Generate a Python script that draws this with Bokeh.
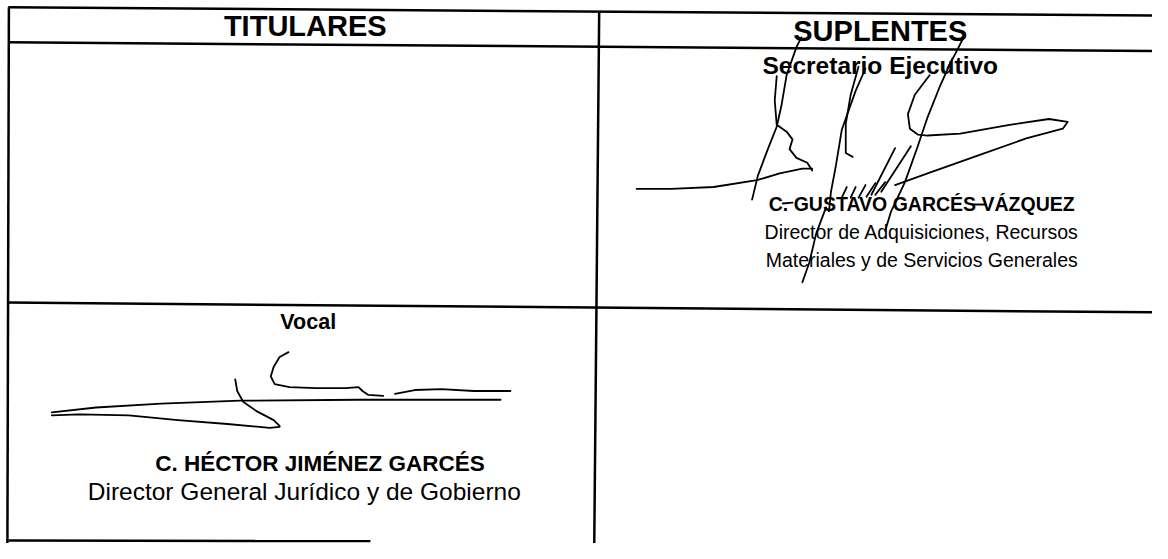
from bokeh.plotting import figure
from bokeh.models import Range1d, ColumnDataSource
from bokeh.core.properties import value
from bokeh.embed import file_html
from bokeh.resources import INLINE

# ---- table rules (reference pixel space) ----
rule_x0 = [8, 8, 8, 8, 8.5, 607]
rule_y0 = [7, 43, 311, 556, 7, 11]
rule_x1 = [1168, 1168, 1168, 375, 7, 602]
rule_y1 = [15.5, 52, 321, 556.5, 559, 559]

# ---- texts (centre x, baseline y in reference pixels) ----
bold_labels = ["TITULARES", "SUPLENTES", "Secretario Ejecutivo",
               "C. GUSTAVO GARCÉS VÁZQUEZ", "Vocal", "C. HÉCTOR JIMÉNEZ GARCÉS"]
bold_x = [309, 892, 892, 934, 312, 324]
bold_y = [37, 42, 76, 217, 339, 485]
bold_size = [29, 29, 24.5, 19.5, 21.5, 22.5]

reg_labels = ["Director de Adquisiciones, Recursos",
              "Materiales y de Servicios Generales",
              "Director General Jurídico y de Gobierno"]
reg_x = [934, 934, 308]
reg_y = [246, 274, 515]
reg_size = [19.5, 19.5, 24.5]

BASELINE_FIX = 0.37  # renderer drops text by ~0.37 em; lift it back

# ---- signature strokes (handwritten marks) ----
sig1_xs = [
    [812, 807, 797, 792, 787, 778, 768, 762],
    [787, 785, 787, 797, 803, 800, 807, 818, 823],
    [823, 813, 790, 767, 723, 680, 645],
    [870, 862, 857, 857, 864],
    [877, 867, 853, 847, 842, 840],
    [837, 827, 820, 813],
    [942, 927, 920, 922, 930, 940, 973, 1023, 1063, 1082, 1077, 1040, 990, 940, 907],
    [965, 953, 940, 930, 917, 903, 897],
    [978, 968, 960],
    [853, 858], [862, 867], [870, 877], [878, 887], [887, 897],
    [907, 883], [923, 893],
    [793, 803], [986, 999],
]
sig1_ys = [
    [38, 48, 77, 107, 130, 153, 180, 205],
    [78, 103, 128, 135, 143, 153, 162, 167, 175],
    [173, 173, 178, 185, 192, 194, 194],
    [68, 97, 127, 157, 161],
    [70, 93, 133, 170, 197, 217],
    [213, 240, 270, 290],
    [77, 97, 117, 132, 138, 139, 137, 128, 122, 125, 132, 142, 160, 178, 190],
    [60, 87, 120, 150, 187, 217, 237],
    [35, 55, 70],
    [203, 192], [203, 192], [203, 190], [202, 188], [200, 187],
    [152, 200], [150, 197],
    [209, 208], [210, 210],
]

sig2_xs = [
    [292, 283, 277, 274, 278, 293, 320, 350, 363, 367, 373, 388],
    [400, 420, 447, 480, 517],
    [52, 97, 163, 243, 363, 507],
    [52, 80, 130, 180, 230, 273, 283],
    [238, 240, 246, 260, 277, 283],
]
sig2_ys = [
    [362, 367, 377, 387, 395, 398, 399, 399, 398, 402, 406, 407],
    [405, 401, 400, 402, 402],
    [424, 419, 415, 412, 411, 411],
    [427, 426, 427, 432, 436, 440, 439],
    [390, 402, 413, 423, 432, 438],
]

p = figure(width=1152, height=543, x_range=Range1d(0, 1168), y_range=Range1d(559, 0),
           output_backend="svg", toolbar_location=None, min_border=0,
           x_axis_type=None, y_axis_type=None)
p.grid.visible = False
p.outline_line_color = None
p.background_fill_color = "white"
p.border_fill_color = "white"

p.segment(x0=rule_x0, y0=rule_y0, x1=rule_x1, y1=rule_y1, line_color="black", line_width=2.5)

p.multi_line(xs=sig1_xs, ys=sig1_ys, line_color="black", line_width=1.8,
             line_cap="round", line_join="round")
p.multi_line(xs=sig2_xs, ys=sig2_ys, line_color="black", line_width=1.8,
             line_cap="round", line_join="round")

bsrc = ColumnDataSource(dict(x=bold_x,
                             y=[v - BASELINE_FIX * s for v, s in zip(bold_y, bold_size)],
                             t=bold_labels, s=[f"{s}px" for s in bold_size]))
p.text(x="x", y="y", text="t", text_font_size="s", source=bsrc,
       text_font=value("Liberation Sans"), text_font_style="bold",
       text_align="center", text_baseline="alphabetic", text_color="black")

rsrc = ColumnDataSource(dict(x=reg_x,
                             y=[v - BASELINE_FIX * s for v, s in zip(reg_y, reg_size)],
                             t=reg_labels, s=[f"{s}px" for s in reg_size]))
p.text(x="x", y="y", text="t", text_font_size="s", source=rsrc,
       text_font=value("Liberation Sans"), text_font_style="normal",
       text_align="center", text_baseline="alphabetic", text_color="black")

open("out.html", "w").write(file_html(p, INLINE))
